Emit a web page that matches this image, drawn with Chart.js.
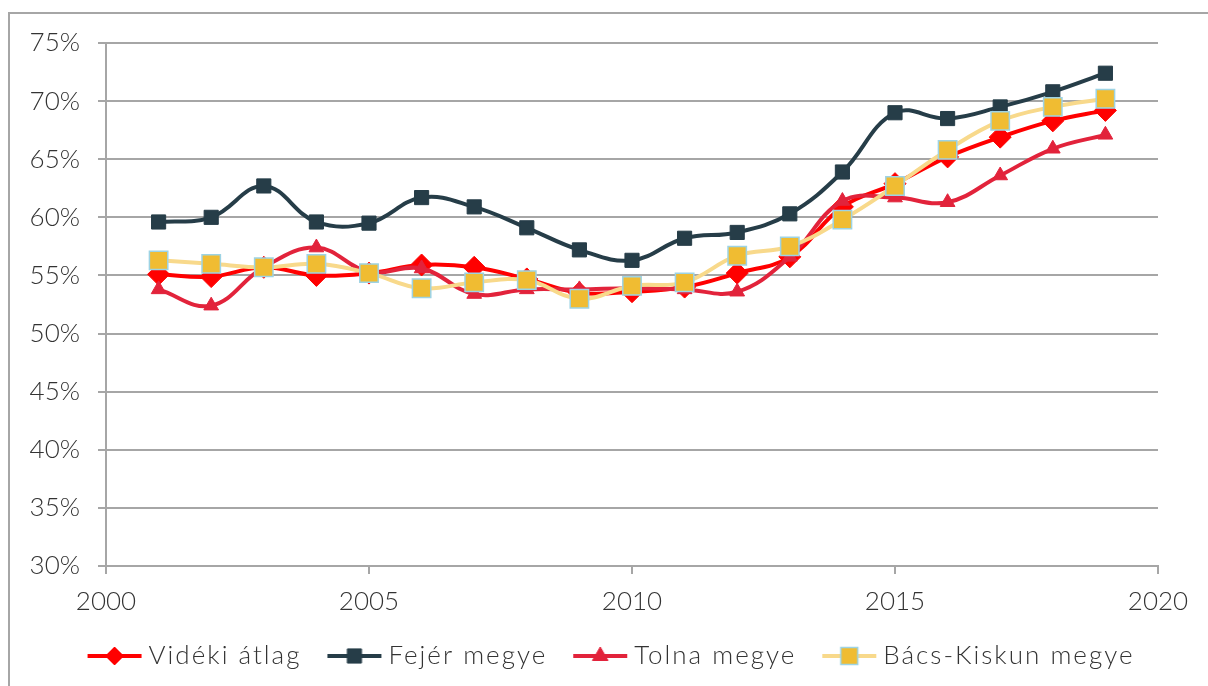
<!DOCTYPE html>
<html>
<head>
<meta charset="utf-8">
<script src="https://cdn.jsdelivr.net/npm/chart.js@4.4.1/dist/chart.umd.min.js"></script>
<style>
  html, body { margin: 0; padding: 0; background: #fff; overflow: hidden; }
  #frame { position: absolute; left: 8px; top: 12px; width: 1400px; height: 900px; border: 2px solid #a6a6a6; }
  #wrap { position: absolute; left: 0; top: 0; width: 1208px; height: 686px; }
</style>
</head>
<body>
<div id="frame"></div>
<div id="wrap"><canvas id="chart" width="1208" height="686"></canvas></div>
<script>
// years on the x axis
const years = [2001, 2002, 2003, 2004, 2005, 2006, 2007, 2008, 2009, 2010,
               2011, 2012, 2013, 2014, 2015, 2016, 2017, 2018, 2019];

// values in percent
const videkiAtlag = [55.1, 54.9, 55.7, 55.0, 55.2, 55.9, 55.7, 54.7, 53.5, 53.6,
                     54.0, 55.2, 56.6, 60.9, 62.9, 65.2, 66.9, 68.3, 69.2];
const fejerMegye  = [59.6, 60.0, 62.7, 59.6, 59.5, 61.7, 60.9, 59.1, 57.2, 56.3,
                     58.2, 58.7, 60.3, 63.9, 69.0, 68.5, 69.5, 70.8, 72.4];
const tolnaMegye  = [53.8, 52.4, 55.7, 57.4, 55.3, 55.6, 53.4, 53.8, 53.8, 53.9,
                     53.8, 53.6, 56.6, 61.4, 61.7, 61.3, 63.6, 65.9, 67.1];
const bacsKiskun  = [56.3, 56.0, 55.7, 56.0, 55.2, 53.9, 54.4, 54.6, 53.0, 54.1,
                     54.4, 56.7, 57.5, 59.8, 62.7, 65.8, 68.3, 69.5, 70.2];

const yTicks = [30, 35, 40, 45, 50, 55, 60, 65, 70, 75];

const FONT = 'Lato, "Open Sans", sans-serif';
const TEXT = '#333333';
const GRID = '#a6a6a6';

function pts(vals) {
    return vals.map((v, i) => ({ x: years[i], y: v }));
}

// legend sample: short line with the marker in the middle
function legendIcon(ds) {
    const c = document.createElement('canvas');
    c.width = 56;
    c.height = 28;
    const g = c.getContext('2d');
    g.strokeStyle = ds.borderColor;
    g.lineWidth = ds.borderWidth;
    g.beginPath();
    g.moveTo(1, 14);
    g.lineTo(55, 14);
    g.stroke();
    g.fillStyle = ds.pointBackgroundColor;
    g.strokeStyle = ds.pointBorderColor;
    g.lineWidth = ds.pointBorderWidth;
    Chart.helpers.drawPoint(g, {
        pointStyle: ds.pointStyle,
        rotation: 0,
        radius: ds.legendRadius,
        borderWidth: ds.pointBorderWidth,
    }, 28, 14);
    return c;
}

const datasets = [
    {
        label: 'Vidéki átlag',
        data: pts(videkiAtlag),
        borderColor: '#ff0000',
        backgroundColor: '#ff0000',
        pointBackgroundColor: '#ff0000',
        pointBorderColor: '#ff0000',
        pointBorderWidth: 1,
        pointStyle: 'rectRot',
        pointRadius: 11,
        legendRadius: 9,
        borderWidth: 4,
        order: 4,
    },
    {
        label: 'Fejér megye',
        data: pts(fejerMegye),
        borderColor: '#263d48',
        backgroundColor: '#263d48',
        pointBackgroundColor: '#263d48',
        pointBorderColor: '#263d48',
        pointBorderWidth: 1,
        pointStyle: 'rect',
        pointRadius: 10,
        legendRadius: 10,
        borderWidth: 4,
        order: 3,
    },
    {
        label: 'Tolna megye',
        data: pts(tolnaMegye),
        borderColor: '#e2233b',
        backgroundColor: '#e2233b',
        pointBackgroundColor: '#e2233b',
        pointBorderColor: '#e2233b',
        pointBorderWidth: 1,
        pointStyle: 'triangle',
        pointRadius: 8.5,
        legendRadius: 9,
        borderWidth: 4,
        order: 2,
    },
    {
        label: 'Bács-Kiskun megye',
        data: pts(bacsKiskun),
        borderColor: '#f8d98b',
        backgroundColor: '#f0bc32',
        pointBackgroundColor: '#f0bc32',
        pointBorderColor: '#9dd3e4',
        pointBorderWidth: 1.5,
        pointStyle: 'rect',
        pointRadius: 13,
        legendRadius: 12,
        borderWidth: 4,
        order: 1,
    },
];

// the legend text in the original is spaced out wider than the axis labels
const wideLegend = {
    id: 'wideLegend',
    afterInit(chart) {
        const lg = chart.legend;
        const fit = lg.fit.bind(lg);
        const draw = lg.draw.bind(lg);
        lg.fit = function () {
            const old = lg.ctx.letterSpacing;
            lg.ctx.letterSpacing = '2px';
            fit();
            lg.ctx.letterSpacing = old;
        };
        lg.draw = function () {
            const old = lg.ctx.letterSpacing;
            lg.ctx.letterSpacing = '2px';
            draw();
            lg.ctx.letterSpacing = old;
        };
    },
};

const ctx = document.getElementById('chart').getContext('2d');
ctx.letterSpacing = '1px';

new Chart(ctx, {
    type: 'line',
    data: { datasets: datasets },
    plugins: [wideLegend],
    options: {
        responsive: false,
        animation: false,
        layout: { padding: { left: 20, right: 0, top: 43, bottom: 7 } },
        elements: {
            line: { tension: 0.4 },
            point: { hoverRadius: 10 },
        },
        plugins: {
            tooltip: { enabled: false },
            legend: {
                position: 'bottom',
                labels: {
                    usePointStyle: true,
                    pointStyleWidth: 42,
                    boxHeight: 26,
                    padding: 32,
                    color: TEXT,
                    font: { family: FONT, size: 26, weight: 300 },
                    generateLabels: chart => chart.data.datasets.map((ds, i) => ({
                        text: ds.label,
                        fillStyle: ds.backgroundColor,
                        strokeStyle: ds.borderColor,
                        lineWidth: 0,
                        pointStyle: legendIcon(ds),
                        datasetIndex: i,
                        hidden: false,
                        fontColor: TEXT,
                    })),
                },
            },
        },
        scales: {
            x: {
                type: 'linear',
                min: 2000,
                max: 2020,
                afterFit: s => { s.height = 45; },
                ticks: {
                    stepSize: 5,
                    padding: 12,
                    color: TEXT,
                    font: { family: FONT, size: 26, weight: 300 },
                    callback: v => String(v),
                },
                grid: { drawOnChartArea: false, drawTicks: true, tickLength: 8, color: GRID, lineWidth: 2 },
                border: { color: GRID, width: 2 },
            },
            y: {
                min: 30,
                max: 75,
                afterFit: s => { s.width = 86; },
                afterBuildTicks: s => { s.ticks = yTicks.map(v => ({ value: v })); },
                ticks: {
                    padding: 18,
                    color: TEXT,
                    font: { family: FONT, size: 26, weight: 300 },
                    callback: v => v + '%',
                },
                grid: { color: GRID, lineWidth: 2, tickLength: 8 },
                border: { color: GRID, width: 2 },
            },
            // empty right-hand axis, only reserves the white margin right of the plot
            spacer: {
                type: 'linear',
                position: 'right',
                afterFit: s => { s.width = 50; },
                ticks: { display: false },
                grid: { display: false },
                border: { display: false },
            },
        },
    },
});
</script>
</body>
</html>
